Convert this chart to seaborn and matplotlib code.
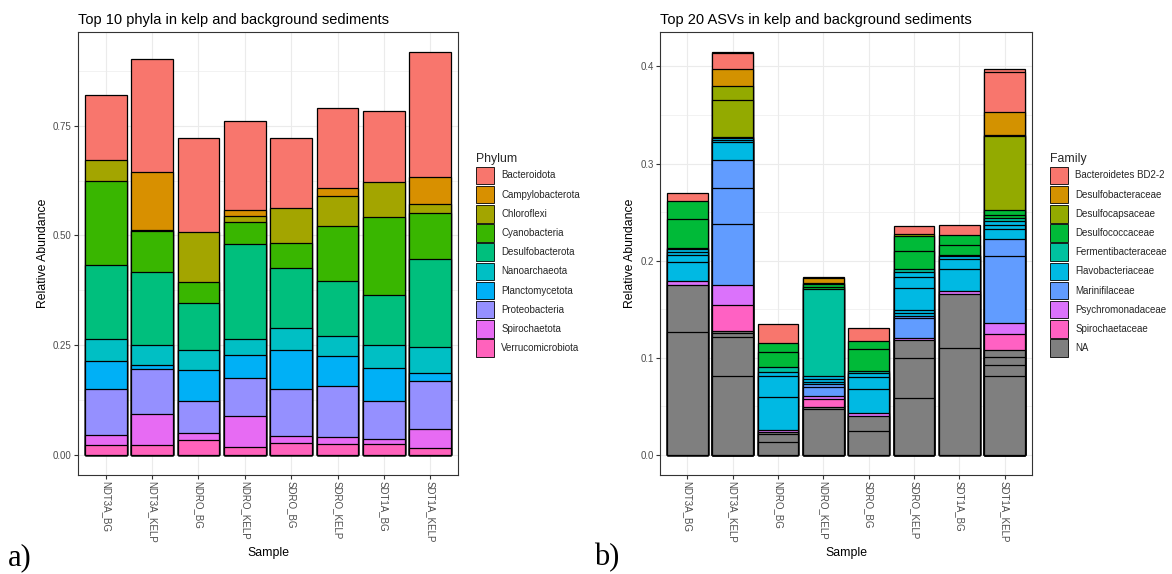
import matplotlib
matplotlib.use("Agg")
import matplotlib.pyplot as plt
from matplotlib.patches import Patch
import pandas as pd
import seaborn as sns

# ---------------- data ----------------
samples = ["NDT3A_BG", "NDT3A_KELP", "NDRO_BG", "NDRO_KELP",
           "SDRO_BG", "SDRO_KELP", "SDT1A_BG", "SDT1A_KELP"]

# panel a: top 10 phyla (legend order, top of stack first)
phyla = ["Bacteroidota", "Campylobacterota", "Chloroflexi", "Cyanobacteria",
         "Desulfobacterota", "Nanoarchaeota", "Planctomycetota",
         "Proteobacteria", "Spirochaetota", "Verrucomicrobiota"]
phylum_colors = ["#F8766D", "#D89000", "#A3A500", "#39B600", "#00BF7D",
                 "#00BFC4", "#00B0F6", "#9590FF", "#E76BF3", "#FF62BC"]

bacteroidota      = [0.147, 0.259, 0.213, 0.202, 0.159, 0.181, 0.163, 0.285]
campylobacterota  = [0.000, 0.131, 0.000, 0.014, 0.000, 0.019, 0.000, 0.062]
chloroflexi       = [0.048, 0.003, 0.115, 0.014, 0.080, 0.069, 0.078, 0.019]
cyanobacteria     = [0.191, 0.093, 0.049, 0.049, 0.058, 0.125, 0.178, 0.106]
desulfobacterota  = [0.168, 0.165, 0.106, 0.217, 0.136, 0.126, 0.114, 0.200]
nanoarchaeota     = [0.052, 0.047, 0.045, 0.036, 0.050, 0.044, 0.054, 0.060]
planctomycetota   = [0.064, 0.009, 0.072, 0.053, 0.090, 0.070, 0.074, 0.018]
proteobacteria    = [0.104, 0.1025, 0.072, 0.087, 0.107, 0.115, 0.087, 0.109]
spirochaetota     = [0.022, 0.070, 0.016, 0.071, 0.014, 0.017, 0.012, 0.043]
verrucomicrobiota = [0.023, 0.023, 0.034, 0.017, 0.028, 0.024, 0.024, 0.016]

phylum_values = [bacteroidota, campylobacterota, chloroflexi, cyanobacteria,
                 desulfobacterota, nanoarchaeota, planctomycetota,
                 proteobacteria, spirochaetota, verrucomicrobiota]

# panel b: top 20 ASVs, per sample, stacked bottom -> top as (family, abundance)
families = ["Bacteroidetes BD2-2", "Desulfobacteraceae", "Desulfocapsaceae",
            "Desulfococcaceae", "Fermentibacteraceae", "Flavobacteriaceae",
            "Marinifilaceae", "Psychromonadaceae", "Spirochaetaceae", "NA"]
family_colors = ["#F8766D", "#D39200", "#93AA00", "#00BA38", "#00C19F",
                 "#00B9E3", "#619CFF", "#DB72FB", "#FF61C3", "#7F7F7F"]

asv_ndt3a_bg = [("NA", 0.1265), ("NA", 0.0487), ("Psychromonadaceae", 0.0034),
                ("Flavobacteriaceae", 0.0202), ("Flavobacteriaceae", 0.0075),
                ("Flavobacteriaceae", 0.0027), ("Flavobacteriaceae", 0.0025),
                ("Fermentibacteraceae", 0.0017), ("Desulfococcaceae", 0.0298),
                ("Desulfococcaceae", 0.0182), ("Bacteroidetes BD2-2", 0.0086)]
asv_ndt3a_kelp = [("NA", 0.0812), ("NA", 0.0405), ("NA", 0.0041), ("NA", 0.0017),
                  ("Spirochaetaceae", 0.0271), ("Psychromonadaceae", 0.0206),
                  ("Marinifilaceae", 0.0627), ("Marinifilaceae", 0.0370),
                  ("Marinifilaceae", 0.0291), ("Flavobacteriaceae", 0.0185),
                  ("Flavobacteriaceae", 0.0021), ("Flavobacteriaceae", 0.0017),
                  ("Desulfococcaceae", 0.0011), ("Desulfocapsaceae", 0.0376),
                  ("Desulfocapsaceae", 0.0144), ("Desulfobacteraceae", 0.0178),
                  ("Bacteroidetes BD2-2", 0.0165), ("Bacteroidetes BD2-2", 0.0010)]
asv_ndro_bg = [("NA", 0.0134), ("NA", 0.0086), ("NA", 0.0017),
               ("Psychromonadaceae", 0.0015), ("Flavobacteriaceae", 0.0348),
               ("Flavobacteriaceae", 0.0212), ("Flavobacteriaceae", 0.0041),
               ("Fermentibacteraceae", 0.0055), ("Desulfococcaceae", 0.0154),
               ("Desulfococcaceae", 0.0089), ("Bacteroidetes BD2-2", 0.0192)]
asv_ndro_kelp = [("NA", 0.0470), ("NA", 0.0024), ("Spirochaetaceae", 0.0086),
                 ("Psychromonadaceae", 0.0027), ("Marinifilaceae", 0.0093),
                 ("Marinifilaceae", 0.0025), ("Flavobacteriaceae", 0.0027),
                 ("Flavobacteriaceae", 0.0027), ("Flavobacteriaceae", 0.0033),
                 ("Fermentibacteraceae", 0.0893), ("Desulfococcaceae", 0.0027),
                 ("Desulfococcaceae", 0.0024), ("Desulfocapsaceae", 0.0017),
                 ("Desulfobacteraceae", 0.0045), ("Bacteroidetes BD2-2", 0.0017)]
asv_sdro_bg = [("NA", 0.0250), ("NA", 0.0154), ("Psychromonadaceae", 0.0031),
               ("Flavobacteriaceae", 0.0247), ("Flavobacteriaceae", 0.0123),
               ("Flavobacteriaceae", 0.0034), ("Fermentibacteraceae", 0.0024),
               ("Desulfococcaceae", 0.0223), ("Desulfococcaceae", 0.0086),
               ("Bacteroidetes BD2-2", 0.0130)]
asv_sdro_kelp = [("NA", 0.0583), ("NA", 0.0418), ("NA", 0.0182),
                 ("Psychromonadaceae", 0.0024), ("Marinifilaceae", 0.0198),
                 ("Marinifilaceae", 0.0024), ("Flavobacteriaceae", 0.0028),
                 ("Flavobacteriaceae", 0.0034), ("Flavobacteriaceae", 0.0230),
                 ("Flavobacteriaceae", 0.0113), ("Flavobacteriaceae", 0.0048),
                 ("Fermentibacteraceae", 0.0027), ("Desulfococcaceae", 0.0189),
                 ("Desulfococcaceae", 0.0154), ("Desulfocapsaceae", 0.0024),
                 ("Bacteroidetes BD2-2", 0.0079)]
asv_sdt1a_bg = [("NA", 0.1097), ("NA", 0.0562), ("Psychromonadaceae", 0.0027),
                ("Flavobacteriaceae", 0.0223), ("Flavobacteriaceae", 0.0103),
                ("Flavobacteriaceae", 0.0034), ("Fermentibacteraceae", 0.0017),
                ("Desulfococcaceae", 0.0103), ("Desulfococcaceae", 0.0096),
                ("Bacteroidetes BD2-2", 0.0110)]
asv_sdt1a_kelp = [("NA", 0.0812), ("NA", 0.0110), ("NA", 0.0089), ("NA", 0.0069),
                  ("Spirochaetaceae", 0.0161), ("Psychromonadaceae", 0.0113),
                  ("Marinifilaceae", 0.0692), ("Marinifilaceae", 0.0178),
                  ("Flavobacteriaceae", 0.0103), ("Flavobacteriaceae", 0.0045),
                  ("Flavobacteriaceae", 0.0034), ("Fermentibacteraceae", 0.0031),
                  ("Desulfococcaceae", 0.0031), ("Desulfococcaceae", 0.0058),
                  ("Desulfocapsaceae", 0.0761), ("Desulfobacteraceae", 0.0010),
                  ("Desulfobacteraceae", 0.0230), ("Bacteroidetes BD2-2", 0.0411),
                  ("Bacteroidetes BD2-2", 0.0035)]

asv_segments = [asv_ndt3a_bg, asv_ndt3a_kelp, asv_ndro_bg, asv_ndro_kelp,
                asv_sdro_bg, asv_sdro_kelp, asv_sdt1a_bg, asv_sdt1a_kelp]

# ---------------- long tables with stacked tops ----------------
phy_rows = []
for si, s in enumerate(samples):
    top = 0.0
    # stack from the last legend entry (bottom) to the first (top)
    for pi in range(len(phyla) - 1, -1, -1):
        v = phylum_values[pi][si]
        top += v
        if v > 0:
            phy_rows.append({"Sample": s, "Phylum": phyla[pi], "top": top})
phy_df = pd.DataFrame(phy_rows)

asv_rows = []
for s, segs in zip(samples, asv_segments):
    top = 0.0
    n = len(segs)
    for k, (fam, v) in enumerate(segs):
        top += v
        asv_rows.append({"Sample": s, "Family": fam, "top": top,
                         "layer": n - 1 - k})
asv_df = pd.DataFrame(asv_rows)

# ---------------- style ----------------
sns.set_theme(style="ticks")
plt.rcParams["font.family"] = ["Liberation Sans", "DejaVu Sans"]

W, H = 1172, 574
fig = plt.figure(figsize=(W / 100, H / 100), dpi=100)
ax1 = fig.add_axes([78 / W, 1 - 475 / H, 380 / W, 443 / H])
ax2 = fig.add_axes([660 / W, 1 - 475 / H, 372 / W, 443 / H])

bar_kw = dict(width=0.9, saturation=1, edgecolor="black", linewidth=0.9,
              errorbar=None, legend=False, order=samples)

# panel a: draw cumulative bars from the top of the stack downward
for ph, col in zip(phyla, phylum_colors):
    layer = phy_df[phy_df["Phylum"] == ph]
    if len(layer):
        sns.barplot(data=layer, x="Sample", y="top", color=col, ax=ax1, **bar_kw)

# panel b: same idea, one layer per stacking rank
fam_palette = dict(zip(families, family_colors))
for j in range(int(asv_df["layer"].max()) + 1):
    layer = asv_df[asv_df["layer"] == j]
    sns.barplot(data=layer, x="Sample", y="top", hue="Family",
                hue_order=families, palette=fam_palette, dodge=False,
                ax=ax2, **bar_kw)


def style_axes(ax, yticks, ylabels, yminor, ylim, title):
    ax.set_xlim(-0.6, 7.6)
    ax.set_ylim(*ylim)
    ax.set_yticks(yticks)
    ax.set_yticklabels(ylabels)
    ax.set_yticks(yminor, minor=True)
    ax.set_xticks(range(len(samples)))
    ax.set_xticklabels(samples, rotation=-90, ha="center", va="top")
    ax.grid(which="major", color="#EBEBEB", linewidth=0.8)
    ax.grid(which="minor", axis="y", color="#EBEBEB", linewidth=0.45)
    ax.set_axisbelow(True)
    for sp in ax.spines.values():
        sp.set_visible(True)
        sp.set_color("#333333")
        sp.set_linewidth(0.8)
    ax.tick_params(which="major", length=2.6, width=0.8, color="#333333",
                   labelcolor="#4D4D4D", labelsize=7, pad=2)
    ax.tick_params(which="minor", length=0)
    ax.set_xlabel("Sample", fontsize=8.8, color="black", labelpad=3)
    ax.set_ylabel("Relative Abundance", fontsize=8.8, color="black", labelpad=3)
    ax.set_title(title, loc="left", fontsize=10.5, color="black", pad=6)


style_axes(ax1, [0, 0.25, 0.5, 0.75], ["0.00", "0.25", "0.50", "0.75"],
           [0.125, 0.375, 0.625, 0.875], (-0.0459, 0.9637),
           "Top 10 phyla in kelp and background sediments")
style_axes(ax2, [0, 0.1, 0.2, 0.3, 0.4], ["0.0", "0.1", "0.2", "0.3", "0.4"],
           [0.05, 0.15, 0.25, 0.35], (-0.0207, 0.4354),
           "Top 20 ASVs in kelp and background sediments")

# legends: square-ish keys with ggplot-like spacing
leg_kw = dict(loc="upper left", frameon=False, fontsize=7, title_fontsize=8.8,
              handlelength=1.9, handleheight=2.39, labelspacing=0.175,
              handletextpad=0.7, borderpad=0, borderaxespad=0, alignment="left")
h1 = [Patch(facecolor=c, edgecolor="black", linewidth=0.6) for c in phylum_colors]
fig.legend(h1, phyla, title="Phylum", bbox_to_anchor=(476 / W, 1 - 153 / H), **leg_kw)
h2 = [Patch(facecolor=c, edgecolor="black", linewidth=0.6) for c in family_colors]
fig.legend(h2, families, title="Family", bbox_to_anchor=(1050 / W, 1 - 153 / H), **leg_kw)

# panel letters
fig.text(8 / W, 1 - 565 / H, "a)", fontsize=22, family="Liberation Serif", color="black")
fig.text(594 / W, 1 - 565 / H, "b)", fontsize=22, family="Liberation Serif", color="black")

fig.savefig("out.png", dpi=100, facecolor="white")
